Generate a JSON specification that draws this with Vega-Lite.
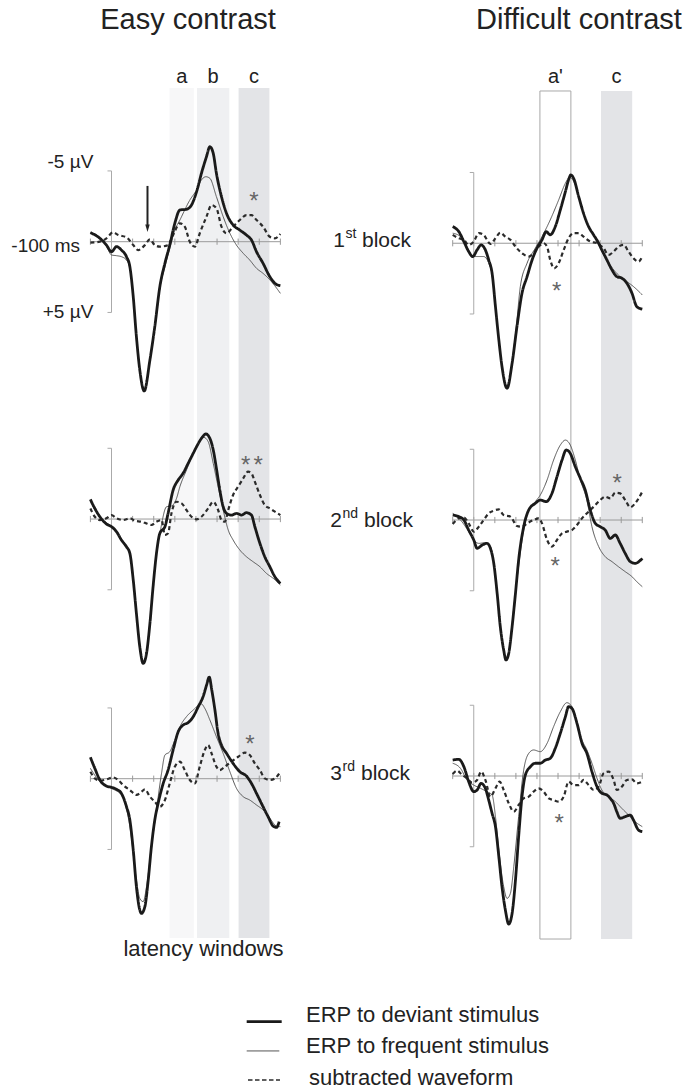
{
"$schema": "https://vega.github.io/schema/vega-lite/v6.json",
"width": 689, "height": 1090,
"autosize": {"type": "fit", "contains": "padding"},
"padding": 0,
"background": "white",
"config": {"view": {"stroke": null}, "font": "Liberation Sans"},
"datasets": {
"ticks": [{"t":-100},{"t":0},{"t":100},{"t":200},{"t":300},{"t":400},{"t":500},{"t":600},{"t":700},{"t":800}],
"bracket": [{"v":-5},{"v":5}],
"windows": [
{"contrast":"Easy","w":"a","start":275,"end":390},
{"contrast":"Easy","w":"b","start":405,"end":558},
{"contrast":"Easy","w":"c","start":602,"end":748},
{"contrast":"Difficult","w":"a'","start":314,"end":461},
{"contrast":"Difficult","w":"c","start":604,"end":752}
],
"stars": [
{"p":"E1","t":675,"v":-2.33},
{"p":"E2","t":636,"v":-3.24},{"p":"E2","t":695,"v":-3.24},
{"p":"E3","t":656,"v":-1.92},
{"p":"D1","t":394,"v":3.97},
{"p":"D2","t":386,"v":3.8},{"p":"D2","t":681,"v":-2.08},
{"p":"D3","t":406,"v":3.89}
],
"easy1": [
{"s":"frequent","t":-100,"v":-0.64},{"s":"frequent","t":-55,"v":-0.24},{"s":"frequent","t":-24,"v":0.31},{"s":"frequent","t":0,"v":0.94},{"s":"frequent","t":24,"v":0.99},{"s":"frequent","t":47,"v":1.06},{"s":"frequent","t":71,"v":1.3},{"s":"frequent","t":87,"v":1.88},{"s":"frequent","t":103,"v":3.89},{"s":"frequent","t":118,"v":6.71},{"s":"frequent","t":134,"v":9.07},{"s":"frequent","t":155,"v":10.48},{"s":"frequent","t":182,"v":8.36},{"s":"frequent","t":205,"v":6.12},{"s":"frequent","t":229,"v":3.3},{"s":"frequent","t":253,"v":1.77},{"s":"frequent","t":276,"v":0.47},{"s":"frequent","t":300,"v":-0.82},{"s":"frequent","t":324,"v":-1.53},{"s":"frequent","t":371,"v":-2.94},{"s":"frequent","t":403,"v":-3.65},{"s":"frequent","t":426,"v":-4.36},{"s":"frequent","t":447,"v":-4.59},{"s":"frequent","t":466,"v":-4.48},{"s":"frequent","t":497,"v":-3.18},{"s":"frequent","t":529,"v":-1.77},{"s":"frequent","t":561,"v":-0.59},{"s":"frequent","t":592,"v":0.24},{"s":"frequent","t":624,"v":0.82},{"s":"frequent","t":655,"v":1.3},{"s":"frequent","t":687,"v":1.88},{"s":"frequent","t":718,"v":2.24},{"s":"frequent","t":758,"v":2.83},{"s":"frequent","t":800,"v":3.65},
{"s":"subtracted","t":-100,"v":0.07},{"s":"subtracted","t":-55,"v":0},{"s":"subtracted","t":-24,"v":-0.24},{"s":"subtracted","t":8,"v":-0.66},{"s":"subtracted","t":32,"v":-0.47},{"s":"subtracted","t":71,"v":-0.31},{"s":"subtracted","t":103,"v":0.24},{"s":"subtracted","t":126,"v":0.59},{"s":"subtracted","t":158,"v":0.24},{"s":"subtracted","t":182,"v":-0.16},{"s":"subtracted","t":205,"v":0.24},{"s":"subtracted","t":229,"v":0.35},{"s":"subtracted","t":268,"v":0.24},{"s":"subtracted","t":292,"v":-0.47},{"s":"subtracted","t":324,"v":-1.3},{"s":"subtracted","t":347,"v":-1.06},{"s":"subtracted","t":371,"v":0},{"s":"subtracted","t":395,"v":0.35},{"s":"subtracted","t":418,"v":-0.59},{"s":"subtracted","t":450,"v":-1.77},{"s":"subtracted","t":474,"v":-2.59},{"s":"subtracted","t":497,"v":-2.36},{"s":"subtracted","t":521,"v":-1.06},{"s":"subtracted","t":545,"v":-0.59},{"s":"subtracted","t":576,"v":-1.06},{"s":"subtracted","t":608,"v":-1.53},{"s":"subtracted","t":639,"v":-1.88},{"s":"subtracted","t":663,"v":-1.88},{"s":"subtracted","t":687,"v":-1.53},{"s":"subtracted","t":718,"v":-1.06},{"s":"subtracted","t":750,"v":-0.35},{"s":"subtracted","t":774,"v":-0.24},{"s":"subtracted","t":800,"v":-0.54},
{"s":"deviant","t":-100,"v":-0.64},{"s":"deviant","t":-55,"v":-0.24},{"s":"deviant","t":-24,"v":0.24},{"s":"deviant","t":0,"v":0.71},{"s":"deviant","t":24,"v":0.35},{"s":"deviant","t":47,"v":0.59},{"s":"deviant","t":71,"v":1.06},{"s":"deviant","t":87,"v":1.77},{"s":"deviant","t":103,"v":3.89},{"s":"deviant","t":118,"v":6.71},{"s":"deviant","t":134,"v":9.07},{"s":"deviant","t":155,"v":10.55},{"s":"deviant","t":182,"v":8.36},{"s":"deviant","t":205,"v":6.01},{"s":"deviant","t":229,"v":3.18},{"s":"deviant","t":253,"v":1.53},{"s":"deviant","t":276,"v":0.24},{"s":"deviant","t":300,"v":-1.3},{"s":"deviant","t":324,"v":-2.24},{"s":"deviant","t":355,"v":-2.29},{"s":"deviant","t":379,"v":-2.59},{"s":"deviant","t":403,"v":-3.53},{"s":"deviant","t":426,"v":-4.83},{"s":"deviant","t":450,"v":-6.01},{"s":"deviant","t":466,"v":-6.71},{"s":"deviant","t":482,"v":-6.24},{"s":"deviant","t":497,"v":-4.83},{"s":"deviant","t":521,"v":-3.18},{"s":"deviant","t":545,"v":-2.0},{"s":"deviant","t":576,"v":-1.18},{"s":"deviant","t":608,"v":-0.82},{"s":"deviant","t":639,"v":-0.47},{"s":"deviant","t":663,"v":-0.12},{"s":"deviant","t":687,"v":0.71},{"s":"deviant","t":718,"v":1.53},{"s":"deviant","t":750,"v":2.47},{"s":"deviant","t":774,"v":2.94},{"s":"deviant","t":800,"v":3.11}
],
"easy2": [
{"s":"frequent","t":-100,"v":-1.22},{"s":"frequent","t":-55,"v":-0.12},{"s":"frequent","t":0,"v":0.54},{"s":"frequent","t":55,"v":1.6},{"s":"frequent","t":87,"v":2.43},{"s":"frequent","t":103,"v":4.19},{"s":"frequent","t":118,"v":6.55},{"s":"frequent","t":134,"v":8.9},{"s":"frequent","t":150,"v":10.08},{"s":"frequent","t":166,"v":9.38},{"s":"frequent","t":182,"v":7.26},{"s":"frequent","t":197,"v":4.66},{"s":"frequent","t":213,"v":2.31},{"s":"frequent","t":229,"v":1.01},{"s":"frequent","t":261,"v":-0.87},{"s":"frequent","t":284,"v":-0.92},{"s":"frequent","t":308,"v":-1.46},{"s":"frequent","t":324,"v":-2.29},{"s":"frequent","t":355,"v":-3.46},{"s":"frequent","t":387,"v":-4.64},{"s":"frequent","t":418,"v":-5.54},{"s":"frequent","t":437,"v":-5.77},{"s":"frequent","t":458,"v":-5.47},{"s":"frequent","t":482,"v":-3.93},{"s":"frequent","t":505,"v":-2.29},{"s":"frequent","t":529,"v":-0.64},{"s":"frequent","t":553,"v":0.78},{"s":"frequent","t":576,"v":1.48},{"s":"frequent","t":608,"v":2.19},{"s":"frequent","t":639,"v":2.66},{"s":"frequent","t":671,"v":3.02},{"s":"frequent","t":703,"v":3.37},{"s":"frequent","t":734,"v":3.84},{"s":"frequent","t":766,"v":4.19},{"s":"frequent","t":800,"v":4.66},
{"s":"subtracted","t":-100,"v":-0.75},{"s":"subtracted","t":-79,"v":-0.16},{"s":"subtracted","t":-55,"v":0.07},{"s":"subtracted","t":-24,"v":-0.05},{"s":"subtracted","t":0,"v":-0.28},{"s":"subtracted","t":24,"v":-0.05},{"s":"subtracted","t":55,"v":0.07},{"s":"subtracted","t":87,"v":-0.05},{"s":"subtracted","t":111,"v":0.12},{"s":"subtracted","t":142,"v":0.19},{"s":"subtracted","t":166,"v":0.31},{"s":"subtracted","t":189,"v":0.42},{"s":"subtracted","t":213,"v":0.19},{"s":"subtracted","t":237,"v":0.07},{"s":"subtracted","t":253,"v":1.13},{"s":"subtracted","t":268,"v":1.01},{"s":"subtracted","t":284,"v":-0.4},{"s":"subtracted","t":308,"v":-1.22},{"s":"subtracted","t":332,"v":-1.11},{"s":"subtracted","t":355,"v":-0.64},{"s":"subtracted","t":379,"v":-0.16},{"s":"subtracted","t":403,"v":0.02},{"s":"subtracted","t":426,"v":-0.16},{"s":"subtracted","t":458,"v":-0.75},{"s":"subtracted","t":482,"v":-1.22},{"s":"subtracted","t":505,"v":-0.64},{"s":"subtracted","t":521,"v":0.07},{"s":"subtracted","t":537,"v":0.19},{"s":"subtracted","t":553,"v":-0.64},{"s":"subtracted","t":576,"v":-1.7},{"s":"subtracted","t":600,"v":-2.29},{"s":"subtracted","t":624,"v":-2.87},{"s":"subtracted","t":647,"v":-3.35},{"s":"subtracted","t":663,"v":-3.23},{"s":"subtracted","t":679,"v":-2.64},{"s":"subtracted","t":703,"v":-1.7},{"s":"subtracted","t":726,"v":-0.99},{"s":"subtracted","t":750,"v":-0.75},{"s":"subtracted","t":774,"v":-0.52},{"s":"subtracted","t":800,"v":-0.28},
{"s":"deviant","t":-100,"v":-1.39},{"s":"deviant","t":-79,"v":-0.75},{"s":"deviant","t":-55,"v":-0.16},{"s":"deviant","t":-24,"v":0.35},{"s":"deviant","t":0,"v":0.54},{"s":"deviant","t":24,"v":0.9},{"s":"deviant","t":47,"v":1.48},{"s":"deviant","t":71,"v":1.96},{"s":"deviant","t":87,"v":2.43},{"s":"deviant","t":103,"v":4.31},{"s":"deviant","t":118,"v":6.67},{"s":"deviant","t":134,"v":9.02},{"s":"deviant","t":150,"v":10.2},{"s":"deviant","t":166,"v":9.49},{"s":"deviant","t":182,"v":7.37},{"s":"deviant","t":197,"v":4.78},{"s":"deviant","t":213,"v":2.43},{"s":"deviant","t":229,"v":1.01},{"s":"deviant","t":253,"v":0.54},{"s":"deviant","t":268,"v":-0.4},{"s":"deviant","t":292,"v":-2.05},{"s":"deviant","t":316,"v":-2.76},{"s":"deviant","t":339,"v":-3.23},{"s":"deviant","t":363,"v":-3.93},{"s":"deviant","t":387,"v":-4.64},{"s":"deviant","t":403,"v":-5.11},{"s":"deviant","t":426,"v":-5.7},{"s":"deviant","t":447,"v":-6.01},{"s":"deviant","t":466,"v":-5.7},{"s":"deviant","t":482,"v":-4.88},{"s":"deviant","t":497,"v":-3.58},{"s":"deviant","t":513,"v":-2.05},{"s":"deviant","t":529,"v":-0.87},{"s":"deviant","t":545,"v":-0.4},{"s":"deviant","t":568,"v":-0.28},{"s":"deviant","t":592,"v":-0.4},{"s":"deviant","t":616,"v":-0.28},{"s":"deviant","t":639,"v":-0.45},{"s":"deviant","t":663,"v":-0.28},{"s":"deviant","t":679,"v":0.54},{"s":"deviant","t":703,"v":1.72},{"s":"deviant","t":726,"v":2.66},{"s":"deviant","t":750,"v":3.37},{"s":"deviant","t":774,"v":4.08},{"s":"deviant","t":800,"v":4.55}
],
"easy3": [
{"s":"frequent","t":-100,"v":-0.73},{"s":"frequent","t":-55,"v":0.21},{"s":"frequent","t":0,"v":0.68},{"s":"frequent","t":47,"v":1.15},{"s":"frequent","t":87,"v":3.39},{"s":"frequent","t":118,"v":7.16},{"s":"frequent","t":134,"v":8.46},{"s":"frequent","t":150,"v":8.69},{"s":"frequent","t":166,"v":7.63},{"s":"frequent","t":189,"v":4.81},{"s":"frequent","t":213,"v":2.21},{"s":"frequent","t":237,"v":-0.38},{"s":"frequent","t":253,"v":-1.67},{"s":"frequent","t":276,"v":-1.91},{"s":"frequent","t":300,"v":-2.73},{"s":"frequent","t":324,"v":-3.67},{"s":"frequent","t":355,"v":-4.38},{"s":"frequent","t":387,"v":-4.85},{"s":"frequent","t":426,"v":-5.28},{"s":"frequent","t":442,"v":-4.97},{"s":"frequent","t":466,"v":-4.15},{"s":"frequent","t":497,"v":-2.97},{"s":"frequent","t":529,"v":-1.79},{"s":"frequent","t":561,"v":-0.49},{"s":"frequent","t":592,"v":0.68},{"s":"frequent","t":624,"v":1.27},{"s":"frequent","t":655,"v":1.51},{"s":"frequent","t":687,"v":1.86},{"s":"frequent","t":718,"v":2.21},{"s":"frequent","t":750,"v":2.8},{"s":"frequent","t":782,"v":3.35},{"s":"frequent","t":800,"v":3.39},
{"s":"subtracted","t":-100,"v":-0.49},{"s":"subtracted","t":-79,"v":-0.02},{"s":"subtracted","t":-55,"v":0.14},{"s":"subtracted","t":-24,"v":0.05},{"s":"subtracted","t":8,"v":-0.09},{"s":"subtracted","t":32,"v":0.09},{"s":"subtracted","t":55,"v":0.45},{"s":"subtracted","t":87,"v":0.8},{"s":"subtracted","t":118,"v":1.15},{"s":"subtracted","t":142,"v":0.92},{"s":"subtracted","t":158,"v":0.75},{"s":"subtracted","t":182,"v":1.27},{"s":"subtracted","t":205,"v":1.63},{"s":"subtracted","t":229,"v":1.98},{"s":"subtracted","t":253,"v":1.51},{"s":"subtracted","t":276,"v":0.33},{"s":"subtracted","t":300,"v":-0.85},{"s":"subtracted","t":324,"v":-1.2},{"s":"subtracted","t":347,"v":-0.61},{"s":"subtracted","t":371,"v":0.09},{"s":"subtracted","t":395,"v":0.33},{"s":"subtracted","t":418,"v":-0.85},{"s":"subtracted","t":442,"v":-2.03},{"s":"subtracted","t":458,"v":-2.38},{"s":"subtracted","t":474,"v":-1.79},{"s":"subtracted","t":497,"v":-0.85},{"s":"subtracted","t":513,"v":-0.61},{"s":"subtracted","t":537,"v":-0.85},{"s":"subtracted","t":568,"v":-1.2},{"s":"subtracted","t":600,"v":-1.55},{"s":"subtracted","t":632,"v":-1.84},{"s":"subtracted","t":655,"v":-1.67},{"s":"subtracted","t":679,"v":-1.08},{"s":"subtracted","t":703,"v":-0.61},{"s":"subtracted","t":726,"v":-0.02},{"s":"subtracted","t":750,"v":0.09},{"s":"subtracted","t":774,"v":-0.02},{"s":"subtracted","t":800,"v":-0.49},
{"s":"deviant","t":-100,"v":-1.51},{"s":"deviant","t":-79,"v":-0.73},{"s":"deviant","t":-55,"v":0.09},{"s":"deviant","t":-24,"v":0.52},{"s":"deviant","t":0,"v":0.61},{"s":"deviant","t":24,"v":0.75},{"s":"deviant","t":47,"v":1.04},{"s":"deviant","t":71,"v":1.98},{"s":"deviant","t":87,"v":2.92},{"s":"deviant","t":103,"v":5.04},{"s":"deviant","t":118,"v":7.63},{"s":"deviant","t":134,"v":9.28},{"s":"deviant","t":142,"v":9.52},{"s":"deviant","t":158,"v":9.05},{"s":"deviant","t":174,"v":7.16},{"s":"deviant","t":189,"v":4.81},{"s":"deviant","t":205,"v":2.92},{"s":"deviant","t":221,"v":1.74},{"s":"deviant","t":245,"v":0.33},{"s":"deviant","t":268,"v":-0.61},{"s":"deviant","t":292,"v":-2.03},{"s":"deviant","t":316,"v":-3.32},{"s":"deviant","t":339,"v":-3.79},{"s":"deviant","t":363,"v":-3.96},{"s":"deviant","t":387,"v":-4.38},{"s":"deviant","t":411,"v":-5.09},{"s":"deviant","t":434,"v":-5.8},{"s":"deviant","t":450,"v":-6.6},{"s":"deviant","t":463,"v":-7.18},{"s":"deviant","t":475,"v":-6.27},{"s":"deviant","t":490,"v":-4.85},{"s":"deviant","t":505,"v":-3.2},{"s":"deviant","t":521,"v":-2.38},{"s":"deviant","t":545,"v":-1.79},{"s":"deviant","t":576,"v":-1.08},{"s":"deviant","t":608,"v":-0.49},{"s":"deviant","t":639,"v":-0.19},{"s":"deviant","t":663,"v":0.33},{"s":"deviant","t":687,"v":1.04},{"s":"deviant","t":718,"v":1.98},{"s":"deviant","t":742,"v":2.69},{"s":"deviant","t":766,"v":3.35},{"s":"deviant","t":782,"v":3.44},{"s":"deviant","t":794,"v":3.04}
],
"diff1": [
{"s":"frequent","t":-100,"v":-0.71},{"s":"frequent","t":-63,"v":-0.47},{"s":"frequent","t":-32,"v":0.24},{"s":"frequent","t":-5,"v":0.94},{"s":"frequent","t":47,"v":0.94},{"s":"frequent","t":71,"v":1.41},{"s":"frequent","t":87,"v":2.24},{"s":"frequent","t":103,"v":4.48},{"s":"frequent","t":119,"v":6.83},{"s":"frequent","t":134,"v":8.72},{"s":"frequent","t":158,"v":10.13},{"s":"frequent","t":182,"v":8.36},{"s":"frequent","t":205,"v":5.42},{"s":"frequent","t":221,"v":3.06},{"s":"frequent","t":253,"v":1.41},{"s":"frequent","t":292,"v":0.35},{"s":"frequent","t":324,"v":-0.47},{"s":"frequent","t":363,"v":-1.65},{"s":"frequent","t":403,"v":-3.06},{"s":"frequent","t":435,"v":-4.24},{"s":"frequent","t":455,"v":-4.66},{"s":"frequent","t":482,"v":-4.12},{"s":"frequent","t":506,"v":-2.83},{"s":"frequent","t":537,"v":-1.41},{"s":"frequent","t":569,"v":-0.59},{"s":"frequent","t":600,"v":0.35},{"s":"frequent","t":632,"v":1.18},{"s":"frequent","t":664,"v":1.88},{"s":"frequent","t":695,"v":2.36},{"s":"frequent","t":727,"v":2.71},{"s":"frequent","t":758,"v":3.06},{"s":"frequent","t":800,"v":3.65},
{"s":"subtracted","t":-100,"v":-0.59},{"s":"subtracted","t":-71,"v":-0.35},{"s":"subtracted","t":-47,"v":-0.24},{"s":"subtracted","t":-24,"v":0.12},{"s":"subtracted","t":0,"v":-0.12},{"s":"subtracted","t":24,"v":-0.71},{"s":"subtracted","t":47,"v":-0.59},{"s":"subtracted","t":79,"v":0.05},{"s":"subtracted","t":103,"v":-0.35},{"s":"subtracted","t":126,"v":-0.75},{"s":"subtracted","t":150,"v":-0.47},{"s":"subtracted","t":174,"v":-0.24},{"s":"subtracted","t":198,"v":0.24},{"s":"subtracted","t":229,"v":0.71},{"s":"subtracted","t":261,"v":0.94},{"s":"subtracted","t":284,"v":0.71},{"s":"subtracted","t":308,"v":0.24},{"s":"subtracted","t":332,"v":0},{"s":"subtracted","t":348,"v":0.24},{"s":"subtracted","t":363,"v":1.18},{"s":"subtracted","t":382,"v":1.77},{"s":"subtracted","t":403,"v":1.41},{"s":"subtracted","t":427,"v":0.47},{"s":"subtracted","t":450,"v":-0.35},{"s":"subtracted","t":474,"v":-0.71},{"s":"subtracted","t":498,"v":-0.71},{"s":"subtracted","t":521,"v":-0.47},{"s":"subtracted","t":553,"v":-0.12},{"s":"subtracted","t":585,"v":0},{"s":"subtracted","t":616,"v":0.35},{"s":"subtracted","t":640,"v":0.82},{"s":"subtracted","t":664,"v":0.59},{"s":"subtracted","t":687,"v":0.24},{"s":"subtracted","t":711,"v":0.12},{"s":"subtracted","t":735,"v":0.59},{"s":"subtracted","t":758,"v":1.06},{"s":"subtracted","t":782,"v":1.3},{"s":"subtracted","t":800,"v":0.94},
{"s":"deviant","t":-100,"v":-1.18},{"s":"deviant","t":-71,"v":-0.82},{"s":"deviant","t":-47,"v":-0.12},{"s":"deviant","t":-24,"v":0.59},{"s":"deviant","t":-5,"v":0.94},{"s":"deviant","t":16,"v":0.47},{"s":"deviant","t":35,"v":0.12},{"s":"deviant","t":55,"v":0.47},{"s":"deviant","t":71,"v":1.18},{"s":"deviant","t":87,"v":2.12},{"s":"deviant","t":103,"v":4.48},{"s":"deviant","t":119,"v":6.83},{"s":"deviant","t":134,"v":8.72},{"s":"deviant","t":158,"v":10.25},{"s":"deviant","t":182,"v":8.48},{"s":"deviant","t":205,"v":5.89},{"s":"deviant","t":229,"v":3.53},{"s":"deviant","t":253,"v":2.36},{"s":"deviant","t":277,"v":1.18},{"s":"deviant","t":300,"v":0.35},{"s":"deviant","t":324,"v":-0.24},{"s":"deviant","t":344,"v":-0.82},{"s":"deviant","t":363,"v":-0.59},{"s":"deviant","t":387,"v":-1.18},{"s":"deviant","t":411,"v":-2.36},{"s":"deviant","t":435,"v":-3.65},{"s":"deviant","t":450,"v":-4.48},{"s":"deviant","t":461,"v":-4.83},{"s":"deviant","t":474,"v":-4.59},{"s":"deviant","t":498,"v":-3.3},{"s":"deviant","t":521,"v":-2.12},{"s":"deviant","t":545,"v":-1.18},{"s":"deviant","t":569,"v":-0.59},{"s":"deviant","t":593,"v":0},{"s":"deviant","t":608,"v":0.47},{"s":"deviant","t":632,"v":1.18},{"s":"deviant","t":656,"v":1.88},{"s":"deviant","t":679,"v":2.36},{"s":"deviant","t":703,"v":2.47},{"s":"deviant","t":727,"v":2.83},{"s":"deviant","t":751,"v":3.53},{"s":"deviant","t":774,"v":4.48},{"s":"deviant","t":800,"v":4.66}
],
"diff2": [
{"s":"frequent","t":-100,"v":-0.47},{"s":"frequent","t":-63,"v":0},{"s":"frequent","t":-24,"v":0.82},{"s":"frequent","t":0,"v":1.41},{"s":"frequent","t":24,"v":1.65},{"s":"frequent","t":55,"v":1.6},{"s":"frequent","t":79,"v":1.88},{"s":"frequent","t":95,"v":3.06},{"s":"frequent","t":111,"v":5.18},{"s":"frequent","t":126,"v":7.54},{"s":"frequent","t":142,"v":9.19},{"s":"frequent","t":153,"v":9.85},{"s":"frequent","t":166,"v":9.42},{"s":"frequent","t":182,"v":7.3},{"s":"frequent","t":205,"v":4.24},{"s":"frequent","t":237,"v":0.71},{"s":"frequent","t":261,"v":-0.71},{"s":"frequent","t":292,"v":-1.3},{"s":"frequent","t":316,"v":-1.77},{"s":"frequent","t":348,"v":-2.83},{"s":"frequent","t":379,"v":-4.24},{"s":"frequent","t":411,"v":-5.3},{"s":"frequent","t":435,"v":-5.65},{"s":"frequent","t":458,"v":-5.3},{"s":"frequent","t":482,"v":-4.24},{"s":"frequent","t":506,"v":-2.83},{"s":"frequent","t":537,"v":-1.41},{"s":"frequent","t":561,"v":0.47},{"s":"frequent","t":593,"v":1.88},{"s":"frequent","t":624,"v":2.59},{"s":"frequent","t":656,"v":2.94},{"s":"frequent","t":687,"v":3.3},{"s":"frequent","t":719,"v":3.65},{"s":"frequent","t":751,"v":4.0},{"s":"frequent","t":774,"v":4.36},{"s":"frequent","t":800,"v":4.71},
{"s":"subtracted","t":-100,"v":0.28},{"s":"subtracted","t":-71,"v":-0.12},{"s":"subtracted","t":-47,"v":-0.19},{"s":"subtracted","t":-24,"v":0.24},{"s":"subtracted","t":0,"v":0.82},{"s":"subtracted","t":24,"v":0.47},{"s":"subtracted","t":47,"v":0},{"s":"subtracted","t":71,"v":-0.47},{"s":"subtracted","t":95,"v":-0.66},{"s":"subtracted","t":119,"v":-0.75},{"s":"subtracted","t":142,"v":-0.35},{"s":"subtracted","t":174,"v":-0.24},{"s":"subtracted","t":205,"v":0.42},{"s":"subtracted","t":229,"v":0.47},{"s":"subtracted","t":253,"v":0.24},{"s":"subtracted","t":284,"v":0},{"s":"subtracted","t":308,"v":-0.12},{"s":"subtracted","t":324,"v":0.24},{"s":"subtracted","t":348,"v":1.41},{"s":"subtracted","t":371,"v":1.88},{"s":"subtracted","t":395,"v":1.41},{"s":"subtracted","t":419,"v":0.94},{"s":"subtracted","t":442,"v":0.82},{"s":"subtracted","t":466,"v":0.71},{"s":"subtracted","t":490,"v":0.35},{"s":"subtracted","t":514,"v":-0.12},{"s":"subtracted","t":545,"v":-0.59},{"s":"subtracted","t":569,"v":-0.94},{"s":"subtracted","t":600,"v":-1.41},{"s":"subtracted","t":624,"v":-1.65},{"s":"subtracted","t":648,"v":-1.53},{"s":"subtracted","t":672,"v":-1.93},{"s":"subtracted","t":695,"v":-1.88},{"s":"subtracted","t":719,"v":-1.41},{"s":"subtracted","t":743,"v":-0.9},{"s":"subtracted","t":766,"v":-1.18},{"s":"subtracted","t":800,"v":-2.0},
{"s":"deviant","t":-100,"v":-0.35},{"s":"deviant","t":-71,"v":-0.24},{"s":"deviant","t":-47,"v":0},{"s":"deviant","t":-24,"v":0.71},{"s":"deviant","t":0,"v":1.41},{"s":"deviant","t":16,"v":2.0},{"s":"deviant","t":40,"v":1.77},{"s":"deviant","t":63,"v":1.65},{"s":"deviant","t":79,"v":2.0},{"s":"deviant","t":95,"v":3.06},{"s":"deviant","t":111,"v":5.18},{"s":"deviant","t":126,"v":7.54},{"s":"deviant","t":142,"v":9.19},{"s":"deviant","t":153,"v":9.89},{"s":"deviant","t":166,"v":9.42},{"s":"deviant","t":182,"v":7.54},{"s":"deviant","t":198,"v":5.18},{"s":"deviant","t":213,"v":2.83},{"s":"deviant","t":237,"v":0.47},{"s":"deviant","t":261,"v":-0.71},{"s":"deviant","t":292,"v":-1.18},{"s":"deviant","t":316,"v":-1.41},{"s":"deviant","t":344,"v":-1.3},{"s":"deviant","t":371,"v":-1.88},{"s":"deviant","t":395,"v":-3.06},{"s":"deviant","t":419,"v":-4.24},{"s":"deviant","t":439,"v":-4.95},{"s":"deviant","t":458,"v":-4.71},{"s":"deviant","t":482,"v":-3.77},{"s":"deviant","t":506,"v":-2.94},{"s":"deviant","t":529,"v":-2.12},{"s":"deviant","t":553,"v":-0.71},{"s":"deviant","t":577,"v":0.24},{"s":"deviant","t":600,"v":0.47},{"s":"deviant","t":624,"v":0.71},{"s":"deviant","t":648,"v":1.3},{"s":"deviant","t":672,"v":1.06},{"s":"deviant","t":695,"v":1.65},{"s":"deviant","t":719,"v":2.36},{"s":"deviant","t":743,"v":2.94},{"s":"deviant","t":766,"v":3.06},{"s":"deviant","t":800,"v":2.71}
],
"diff3": [
{"s":"frequent","t":-100,"v":-0.9},{"s":"frequent","t":-63,"v":-0.54},{"s":"frequent","t":-32,"v":0.28},{"s":"frequent","t":0,"v":0.64},{"s":"frequent","t":32,"v":0.87},{"s":"frequent","t":63,"v":1.11},{"s":"frequent","t":87,"v":1.34},{"s":"frequent","t":103,"v":2.87},{"s":"frequent","t":119,"v":5.23},{"s":"frequent","t":142,"v":7.82},{"s":"frequent","t":158,"v":8.65},{"s":"frequent","t":174,"v":8.29},{"s":"frequent","t":190,"v":6.41},{"s":"frequent","t":213,"v":2.87},{"s":"frequent","t":237,"v":-0.42},{"s":"frequent","t":261,"v":-1.6},{"s":"frequent","t":284,"v":-1.84},{"s":"frequent","t":316,"v":-1.72},{"s":"frequent","t":348,"v":-2.31},{"s":"frequent","t":379,"v":-3.49},{"s":"frequent","t":411,"v":-4.55},{"s":"frequent","t":442,"v":-5.18},{"s":"frequent","t":466,"v":-4.9},{"s":"frequent","t":490,"v":-3.72},{"s":"frequent","t":514,"v":-2.54},{"s":"frequent","t":537,"v":-1.84},{"s":"frequent","t":561,"v":-0.9},{"s":"frequent","t":585,"v":0.16},{"s":"frequent","t":608,"v":0.99},{"s":"frequent","t":640,"v":1.46},{"s":"frequent","t":672,"v":1.81},{"s":"frequent","t":703,"v":2.29},{"s":"frequent","t":735,"v":2.76},{"s":"frequent","t":766,"v":3.23},{"s":"frequent","t":800,"v":3.58},
{"s":"subtracted","t":-100,"v":-0.14},{"s":"subtracted","t":-79,"v":-0.38},{"s":"subtracted","t":-55,"v":-0.07},{"s":"subtracted","t":-32,"v":0.16},{"s":"subtracted","t":-8,"v":0.47},{"s":"subtracted","t":16,"v":0.28},{"s":"subtracted","t":35,"v":-0.31},{"s":"subtracted","t":55,"v":0.28},{"s":"subtracted","t":79,"v":1.46},{"s":"subtracted","t":103,"v":0.87},{"s":"subtracted","t":123,"v":0.4},{"s":"subtracted","t":142,"v":0.99},{"s":"subtracted","t":166,"v":1.93},{"s":"subtracted","t":190,"v":2.52},{"s":"subtracted","t":213,"v":2.05},{"s":"subtracted","t":237,"v":1.58},{"s":"subtracted","t":261,"v":1.46},{"s":"subtracted","t":284,"v":1.11},{"s":"subtracted","t":308,"v":0.87},{"s":"subtracted","t":332,"v":1.11},{"s":"subtracted","t":356,"v":1.58},{"s":"subtracted","t":379,"v":1.7},{"s":"subtracted","t":403,"v":1.81},{"s":"subtracted","t":427,"v":1.46},{"s":"subtracted","t":450,"v":0.4},{"s":"subtracted","t":474,"v":0.64},{"s":"subtracted","t":498,"v":0.64},{"s":"subtracted","t":521,"v":0.28},{"s":"subtracted","t":545,"v":0.64},{"s":"subtracted","t":569,"v":0.99},{"s":"subtracted","t":593,"v":0.75},{"s":"subtracted","t":616,"v":-0.19},{"s":"subtracted","t":640,"v":-0.31},{"s":"subtracted","t":664,"v":0.28},{"s":"subtracted","t":679,"v":0.99},{"s":"subtracted","t":703,"v":0.75},{"s":"subtracted","t":727,"v":0.28},{"s":"subtracted","t":751,"v":0.24},{"s":"subtracted","t":774,"v":0.52},{"s":"subtracted","t":800,"v":0.4},
{"s":"deviant","t":-100,"v":-1.13},{"s":"deviant","t":-71,"v":-1.18},{"s":"deviant","t":-47,"v":-0.66},{"s":"deviant","t":-24,"v":0.4},{"s":"deviant","t":0,"v":1.11},{"s":"deviant","t":16,"v":0.99},{"s":"deviant","t":35,"v":0.52},{"s":"deviant","t":55,"v":0.87},{"s":"deviant","t":71,"v":1.7},{"s":"deviant","t":87,"v":2.64},{"s":"deviant","t":103,"v":3.58},{"s":"deviant","t":119,"v":5.7},{"s":"deviant","t":134,"v":7.82},{"s":"deviant","t":150,"v":9.47},{"s":"deviant","t":166,"v":10.46},{"s":"deviant","t":182,"v":9.71},{"s":"deviant","t":198,"v":7.35},{"s":"deviant","t":213,"v":4.29},{"s":"deviant","t":229,"v":1.46},{"s":"deviant","t":245,"v":-0.07},{"s":"deviant","t":269,"v":-0.66},{"s":"deviant","t":292,"v":-0.9},{"s":"deviant","t":316,"v":-0.9},{"s":"deviant","t":340,"v":-1.13},{"s":"deviant","t":363,"v":-1.25},{"s":"deviant","t":387,"v":-1.96},{"s":"deviant","t":411,"v":-3.02},{"s":"deviant","t":435,"v":-4.19},{"s":"deviant","t":450,"v":-4.9},{"s":"deviant","t":466,"v":-4.78},{"s":"deviant","t":490,"v":-3.72},{"s":"deviant","t":514,"v":-2.31},{"s":"deviant","t":537,"v":-1.6},{"s":"deviant","t":561,"v":-0.31},{"s":"deviant","t":585,"v":0.75},{"s":"deviant","t":608,"v":1.22},{"s":"deviant","t":632,"v":1.34},{"s":"deviant","t":648,"v":1.58},{"s":"deviant","t":664,"v":1.93},{"s":"deviant","t":679,"v":2.52},{"s":"deviant","t":695,"v":2.99},{"s":"deviant","t":719,"v":2.87},{"s":"deviant","t":743,"v":2.76},{"s":"deviant","t":758,"v":3.11},{"s":"deviant","t":782,"v":3.82},{"s":"deviant","t":800,"v":3.93}
]
},
"layer": [
{"layer": [
 {"data":{"name":"windows"},"transform":[{"filter":"datum.contrast == 'Easy'"}],"mark":{"type":"rect"},
  "encoding":{"x":{"field":"start","type":"quantitative","scale":{"domain":[-528.2,2735.7],"nice":false,"zero":false},"axis":null},"x2":{"field":"end"},
   "y":{"datum":-10.86,"type":"quantitative","scale":{"domain":[-17.08,59.95],"nice":false,"zero":false,"reverse":true},"axis":null},"y2":{"datum":49.21},
   "fill":{"field":"w","type":"nominal","scale":{"domain":["a","b","c"],"range":["#f7f7f8","#eff0f2","#e3e4e7"]},"legend":null}}},
 {"data":{"name":"windows"},"transform":[{"filter":"datum.contrast == 'Easy'"},{"fold":["start","end"],"as":["edge","tv"]}],
  "mark":{"type":"text","fontSize":20,"color":"#222","align":"center","baseline":"alphabetic"},
  "encoding":{"x":{"aggregate":"mean","field":"tv","type":"quantitative","scale":{"domain":[-528.2,2735.7],"nice":false,"zero":false},"axis":null},
   "y":{"datum":-11.2,"type":"quantitative","scale":{"domain":[-17.08,59.95],"nice":false,"zero":false,"reverse":true},"axis":null},"text":{"field":"w","type":"nominal"}}},
 {"data":{"values":[{}]},"mark":{"type":"text","fontSize":29,"color":"#222","align":"center","baseline":"alphabetic"},
  "encoding":{"x":{"datum":362.4,"type":"quantitative","scale":{"domain":[-528.2,2735.7],"nice":false,"zero":false},"axis":null},
   "y":{"datum":-15.03,"type":"quantitative","scale":{"domain":[-17.08,59.95],"nice":false,"zero":false,"reverse":true},"axis":null},"text":{"value":"Easy contrast"}}},
 {"data":{"values":[{}]},"mark":{"type":"text","fontSize":19,"color":"#222","align":"right","baseline":"alphabetic"},
  "encoding":{"x":{"datum":-86.2,"type":"quantitative","scale":{"domain":[-528.2,2735.7],"nice":false,"zero":false},"axis":null},
   "y":{"datum":-5.19,"type":"quantitative","scale":{"domain":[-17.08,59.95],"nice":false,"zero":false,"reverse":true},"axis":null},"text":{"value":"-5 µV"}}},
 {"data":{"values":[{}]},"mark":{"type":"text","fontSize":19,"color":"#222","align":"right","baseline":"alphabetic"},
  "encoding":{"x":{"datum":-86.2,"type":"quantitative","scale":{"domain":[-528.2,2735.7],"nice":false,"zero":false},"axis":null},
   "y":{"datum":5.41,"type":"quantitative","scale":{"domain":[-17.08,59.95],"nice":false,"zero":false,"reverse":true},"axis":null},"text":{"value":"+5 µV"}}},
 {"data":{"values":[{}]},"mark":{"type":"text","fontSize":19,"color":"#222","align":"right","baseline":"alphabetic"},
  "encoding":{"x":{"datum":-149.2,"type":"quantitative","scale":{"domain":[-528.2,2735.7],"nice":false,"zero":false},"axis":null},
   "y":{"datum":0.73,"type":"quantitative","scale":{"domain":[-17.08,59.95],"nice":false,"zero":false,"reverse":true},"axis":null},"text":{"value":"-100 ms"}}},
 {"data":{"values":[{}]},"mark":{"type":"rule","color":"#9a9a9a","strokeWidth":1},
  "encoding":{"x":{"datum":-100,"type":"quantitative","scale":{"domain":[-528.2,2735.7],"nice":false,"zero":false},"axis":null},"x2":{"datum":800},
   "y":{"datum":0,"type":"quantitative","scale":{"domain":[-17.08,59.95],"nice":false,"zero":false,"reverse":true},"axis":null}}},
 {"data":{"name":"ticks"},"mark":{"type":"rule","color":"#9a9a9a","strokeWidth":1},
  "encoding":{"x":{"field":"t","type":"quantitative","scale":{"domain":[-528.2,2735.7],"nice":false,"zero":false},"axis":null},
   "y":{"datum":-0.22,"type":"quantitative","scale":{"domain":[-17.08,59.95],"nice":false,"zero":false,"reverse":true},"axis":null},"y2":{"datum":0.22}}},
 {"data":{"values":[{}]},"mark":{"type":"rule","color":"#aaaaaa","strokeWidth":1},
  "encoding":{"x":{"datum":0,"type":"quantitative","scale":{"domain":[-528.2,2735.7],"nice":false,"zero":false},"axis":null},
   "y":{"datum":-5,"type":"quantitative","scale":{"domain":[-17.08,59.95],"nice":false,"zero":false,"reverse":true},"axis":null},"y2":{"datum":5}}},
 {"data":{"name":"bracket"},"mark":{"type":"rule","color":"#aaaaaa","strokeWidth":1},
  "encoding":{"x":{"datum":-19,"type":"quantitative","scale":{"domain":[-528.2,2735.7],"nice":false,"zero":false},"axis":null},"x2":{"datum":0},
   "y":{"field":"v","type":"quantitative","scale":{"domain":[-17.08,59.95],"nice":false,"zero":false,"reverse":true},"axis":null}}},
 {"data":{"values":[{}]},"mark":{"type":"rule","color":"#222","strokeWidth":2},
  "encoding":{"x":{"datum":170.5,"type":"quantitative","scale":{"domain":[-528.2,2735.7],"nice":false,"zero":false},"axis":null},
   "y":{"datum":-3.94,"type":"quantitative","scale":{"domain":[-17.08,59.95],"nice":false,"zero":false,"reverse":true},"axis":null},"y2":{"datum":-1.1}}},
 {"data":{"values":[{}]},"mark":{"type":"point","shape":"M-0.6,-1L0.6,-1L0,1Z","filled":true,"color":"#222","opacity":1,"size":55},
  "encoding":{"x":{"datum":170.5,"type":"quantitative","scale":{"domain":[-528.2,2735.7],"nice":false,"zero":false},"axis":null},
   "y":{"datum":-0.95,"type":"quantitative","scale":{"domain":[-17.08,59.95],"nice":false,"zero":false,"reverse":true},"axis":null}}},
 {"data":{"name":"easy1"},"mark":{"type":"line","interpolate":"monotone","strokeJoin":"round","strokeCap":"butt"},
  "encoding":{"x":{"field":"t","type":"quantitative","scale":{"domain":[-528.2,2735.7],"nice":false,"zero":false},"axis":null},
   "y":{"field":"v","type":"quantitative","scale":{"domain":[-17.08,59.95],"nice":false,"zero":false,"reverse":true},"axis":null},
   "color":{"field":"s","type":"nominal","scale":{"domain":["frequent","subtracted","deviant"],"range":["#555555","#2b2b2b","#1a1a1a"]},"legend":null},
   "strokeWidth":{"field":"s","type":"nominal","scale":{"type":"ordinal","domain":["frequent","subtracted","deviant"],"range":[1,2.2,2.8]},"legend":null},
   "strokeDash":{"field":"s","type":"nominal","scale":{"domain":["frequent","subtracted","deviant"],"range":[[1,0],[4,3],[1,0]]},"legend":null}}},
 {"data":{"name":"stars"},"transform":[{"filter":"datum.p == 'E1'"}],"mark":{"type":"text","fontSize":24,"color":"#666","align":"center","baseline":"alphabetic"},
  "encoding":{"x":{"field":"t","type":"quantitative","scale":{"domain":[-528.2,2735.7],"nice":false,"zero":false},"axis":null},
   "y":{"field":"v","type":"quantitative","scale":{"domain":[-17.08,59.95],"nice":false,"zero":false,"reverse":true},"axis":null},"text":{"value":"*"}}}
]},
{"layer": [
 {"data":{"values":[{}]},"mark":{"type":"rule","color":"#9a9a9a","strokeWidth":1},
  "encoding":{"x":{"datum":-100,"type":"quantitative","scale":{"domain":[-528.2,2735.7],"nice":false,"zero":false},"axis":null},"x2":{"datum":800},
   "y":{"datum":0,"type":"quantitative","scale":{"domain":[-36.68,40.35],"nice":false,"zero":false,"reverse":true},"axis":null}}},
 {"data":{"name":"ticks"},"mark":{"type":"rule","color":"#9a9a9a","strokeWidth":1},
  "encoding":{"x":{"field":"t","type":"quantitative","scale":{"domain":[-528.2,2735.7],"nice":false,"zero":false},"axis":null},
   "y":{"datum":-0.22,"type":"quantitative","scale":{"domain":[-36.68,40.35],"nice":false,"zero":false,"reverse":true},"axis":null},"y2":{"datum":0.22}}},
 {"data":{"values":[{}]},"mark":{"type":"rule","color":"#aaaaaa","strokeWidth":1},
  "encoding":{"x":{"datum":0,"type":"quantitative","scale":{"domain":[-528.2,2735.7],"nice":false,"zero":false},"axis":null},
   "y":{"datum":-5,"type":"quantitative","scale":{"domain":[-36.68,40.35],"nice":false,"zero":false,"reverse":true},"axis":null},"y2":{"datum":5}}},
 {"data":{"name":"bracket"},"mark":{"type":"rule","color":"#aaaaaa","strokeWidth":1},
  "encoding":{"x":{"datum":-19,"type":"quantitative","scale":{"domain":[-528.2,2735.7],"nice":false,"zero":false},"axis":null},"x2":{"datum":0},
   "y":{"field":"v","type":"quantitative","scale":{"domain":[-36.68,40.35],"nice":false,"zero":false,"reverse":true},"axis":null}}},
 {"data":{"name":"easy2"},"mark":{"type":"line","interpolate":"monotone","strokeJoin":"round","strokeCap":"butt"},
  "encoding":{"x":{"field":"t","type":"quantitative","scale":{"domain":[-528.2,2735.7],"nice":false,"zero":false},"axis":null},
   "y":{"field":"v","type":"quantitative","scale":{"domain":[-36.68,40.35],"nice":false,"zero":false,"reverse":true},"axis":null},
   "color":{"field":"s","type":"nominal","scale":{"domain":["frequent","subtracted","deviant"],"range":["#555555","#2b2b2b","#1a1a1a"]},"legend":null},
   "strokeWidth":{"field":"s","type":"nominal","scale":{"type":"ordinal","domain":["frequent","subtracted","deviant"],"range":[1,2.2,2.8]},"legend":null},
   "strokeDash":{"field":"s","type":"nominal","scale":{"domain":["frequent","subtracted","deviant"],"range":[[1,0],[4,3],[1,0]]},"legend":null}}},
 {"data":{"name":"stars"},"transform":[{"filter":"datum.p == 'E2'"}],"mark":{"type":"text","fontSize":24,"color":"#666","align":"center","baseline":"alphabetic"},
  "encoding":{"x":{"field":"t","type":"quantitative","scale":{"domain":[-528.2,2735.7],"nice":false,"zero":false},"axis":null},
   "y":{"field":"v","type":"quantitative","scale":{"domain":[-36.68,40.35],"nice":false,"zero":false,"reverse":true},"axis":null},"text":{"value":"*"}}}
]},
{"layer": [
 {"data":{"values":[{}]},"mark":{"type":"rule","color":"#9a9a9a","strokeWidth":1},
  "encoding":{"x":{"datum":-100,"type":"quantitative","scale":{"domain":[-528.2,2735.7],"nice":false,"zero":false},"axis":null},"x2":{"datum":800},
   "y":{"datum":0,"type":"quantitative","scale":{"domain":[-55.03,22.0],"nice":false,"zero":false,"reverse":true},"axis":null}}},
 {"data":{"name":"ticks"},"mark":{"type":"rule","color":"#9a9a9a","strokeWidth":1},
  "encoding":{"x":{"field":"t","type":"quantitative","scale":{"domain":[-528.2,2735.7],"nice":false,"zero":false},"axis":null},
   "y":{"datum":-0.22,"type":"quantitative","scale":{"domain":[-55.03,22.0],"nice":false,"zero":false,"reverse":true},"axis":null},"y2":{"datum":0.22}}},
 {"data":{"values":[{}]},"mark":{"type":"rule","color":"#aaaaaa","strokeWidth":1},
  "encoding":{"x":{"datum":0,"type":"quantitative","scale":{"domain":[-528.2,2735.7],"nice":false,"zero":false},"axis":null},
   "y":{"datum":-5,"type":"quantitative","scale":{"domain":[-55.03,22.0],"nice":false,"zero":false,"reverse":true},"axis":null},"y2":{"datum":5}}},
 {"data":{"name":"bracket"},"mark":{"type":"rule","color":"#aaaaaa","strokeWidth":1},
  "encoding":{"x":{"datum":-19,"type":"quantitative","scale":{"domain":[-528.2,2735.7],"nice":false,"zero":false},"axis":null},"x2":{"datum":0},
   "y":{"field":"v","type":"quantitative","scale":{"domain":[-55.03,22.0],"nice":false,"zero":false,"reverse":true},"axis":null}}},
 {"data":{"name":"easy3"},"mark":{"type":"line","interpolate":"monotone","strokeJoin":"round","strokeCap":"butt"},
  "encoding":{"x":{"field":"t","type":"quantitative","scale":{"domain":[-528.2,2735.7],"nice":false,"zero":false},"axis":null},
   "y":{"field":"v","type":"quantitative","scale":{"domain":[-55.03,22.0],"nice":false,"zero":false,"reverse":true},"axis":null},
   "color":{"field":"s","type":"nominal","scale":{"domain":["frequent","subtracted","deviant"],"range":["#555555","#2b2b2b","#1a1a1a"]},"legend":null},
   "strokeWidth":{"field":"s","type":"nominal","scale":{"type":"ordinal","domain":["frequent","subtracted","deviant"],"range":[1,2.2,2.8]},"legend":null},
   "strokeDash":{"field":"s","type":"nominal","scale":{"domain":["frequent","subtracted","deviant"],"range":[[1,0],[4,3],[1,0]]},"legend":null}}},
 {"data":{"name":"stars"},"transform":[{"filter":"datum.p == 'E3'"}],"mark":{"type":"text","fontSize":24,"color":"#666","align":"center","baseline":"alphabetic"},
  "encoding":{"x":{"field":"t","type":"quantitative","scale":{"domain":[-528.2,2735.7],"nice":false,"zero":false},"axis":null},
   "y":{"field":"v","type":"quantitative","scale":{"domain":[-55.03,22.0],"nice":false,"zero":false,"reverse":true},"axis":null},"text":{"value":"*"}}},
 {"data":{"values":[{}]},"mark":{"type":"text","fontSize":22,"color":"#222","align":"center","baseline":"alphabetic"},
  "encoding":{"x":{"datum":435.8,"type":"quantitative","scale":{"domain":[-528.2,2735.7],"nice":false,"zero":false},"axis":null},
   "y":{"datum":12.53,"type":"quantitative","scale":{"domain":[-55.03,22.0],"nice":false,"zero":false,"reverse":true},"axis":null},"text":{"value":"latency windows"}}},
 {"data":{"values":[{}]},"mark":{"type":"rule","color":"#1a1a1a","strokeWidth":2.8},
  "encoding":{"x":{"datum":640.4,"type":"quantitative","scale":{"domain":[-528.2,2735.7],"nice":false,"zero":false},"axis":null},"x2":{"datum":806.2},
   "y":{"datum":17.17,"type":"quantitative","scale":{"domain":[-55.03,22.0],"nice":false,"zero":false,"reverse":true},"axis":null}}},
 {"data":{"values":[{}]},"mark":{"type":"rule","color":"#555555","strokeWidth":1},
  "encoding":{"x":{"datum":640.4,"type":"quantitative","scale":{"domain":[-528.2,2735.7],"nice":false,"zero":false},"axis":null},"x2":{"datum":794.9},
   "y":{"datum":19.24,"type":"quantitative","scale":{"domain":[-55.03,22.0],"nice":false,"zero":false,"reverse":true},"axis":null}}},
 {"data":{"values":[{}]},"mark":{"type":"rule","color":"#2b2b2b","strokeWidth":1.4,"strokeDash":[4.5,2.5]},
  "encoding":{"x":{"datum":646.6,"type":"quantitative","scale":{"domain":[-528.2,2735.7],"nice":false,"zero":false},"axis":null},"x2":{"datum":798.2},
   "y":{"datum":21.29,"type":"quantitative","scale":{"domain":[-55.03,22.0],"nice":false,"zero":false,"reverse":true},"axis":null}}},
 {"data":{"values":[{}]},"mark":{"type":"text","fontSize":22,"color":"#222","align":"left","baseline":"alphabetic"},
  "encoding":{"x":{"datum":921.3,"type":"quantitative","scale":{"domain":[-528.2,2735.7],"nice":false,"zero":false},"axis":null},
   "y":{"datum":17.19,"type":"quantitative","scale":{"domain":[-55.03,22.0],"nice":false,"zero":false,"reverse":true},"axis":null},"text":{"value":"ERP to deviant stimulus"}}},
 {"data":{"values":[{}]},"mark":{"type":"text","fontSize":22,"color":"#222","align":"left","baseline":"alphabetic"},
  "encoding":{"x":{"datum":921.3,"type":"quantitative","scale":{"domain":[-528.2,2735.7],"nice":false,"zero":false},"axis":null},
   "y":{"datum":19.41,"type":"quantitative","scale":{"domain":[-55.03,22.0],"nice":false,"zero":false,"reverse":true},"axis":null},"text":{"value":"ERP to frequent stimulus"}}},
 {"data":{"values":[{}]},"mark":{"type":"text","fontSize":22,"color":"#222","align":"left","baseline":"alphabetic"},
  "encoding":{"x":{"datum":935.6,"type":"quantitative","scale":{"domain":[-528.2,2735.7],"nice":false,"zero":false},"axis":null},
   "y":{"datum":21.65,"type":"quantitative","scale":{"domain":[-55.03,22.0],"nice":false,"zero":false,"reverse":true},"axis":null},"text":{"value":"subtracted waveform"}}}
]},
{"layer": [
 {"data":{"name":"windows"},"transform":[{"filter":"datum.contrast == 'Difficult' && datum.w == 'c'"}],"mark":{"type":"rect"},
  "encoding":{"x":{"field":"start","type":"quantitative","scale":{"domain":[-2248.9,1021.7],"nice":false,"zero":false},"axis":null},"x2":{"field":"end"},
   "y":{"datum":-10.76,"type":"quantitative","scale":{"domain":[-17.19,59.84],"nice":false,"zero":false,"reverse":true},"axis":null},"y2":{"datum":49.17},
   "fill":{"field":"w","type":"nominal","scale":{"domain":["a","b","c"],"range":["#f7f7f8","#eff0f2","#e3e4e7"]},"legend":null}}},
 {"data":{"name":"windows"},"transform":[{"filter":"datum.contrast == 'Difficult' && datum.w != 'c'"}],"mark":{"type":"rect","fill":"transparent","stroke":"#a8a8a8","strokeWidth":1},
  "encoding":{"x":{"field":"start","type":"quantitative","scale":{"domain":[-2248.9,1021.7],"nice":false,"zero":false},"axis":null},"x2":{"field":"end"},
   "y":{"datum":-10.76,"type":"quantitative","scale":{"domain":[-17.19,59.84],"nice":false,"zero":false,"reverse":true},"axis":null},"y2":{"datum":49.17}}},
 {"data":{"name":"windows"},"transform":[{"filter":"datum.contrast == 'Difficult'"},{"fold":["start","end"],"as":["edge","tv"]}],
  "mark":{"type":"text","fontSize":20,"color":"#222","align":"center","baseline":"alphabetic"},
  "encoding":{"x":{"aggregate":"mean","field":"tv","type":"quantitative","scale":{"domain":[-2248.9,1021.7],"nice":false,"zero":false},"axis":null},
   "y":{"datum":-11.32,"type":"quantitative","scale":{"domain":[-17.19,59.84],"nice":false,"zero":false,"reverse":true},"axis":null},"text":{"field":"w","type":"nominal"}}},
 {"data":{"values":[{}]},"mark":{"type":"text","fontSize":29,"color":"#222","align":"center","baseline":"alphabetic"},
  "encoding":{"x":{"datum":499.5,"type":"quantitative","scale":{"domain":[-2248.9,1021.7],"nice":false,"zero":false},"axis":null},
   "y":{"datum":-15.14,"type":"quantitative","scale":{"domain":[-17.19,59.84],"nice":false,"zero":false,"reverse":true},"axis":null},"text":{"value":"Difficult contrast"}}},
 {"data":{"values":[{}]},"mark":{"type":"rule","color":"#9a9a9a","strokeWidth":1},
  "encoding":{"x":{"datum":-100,"type":"quantitative","scale":{"domain":[-2248.9,1021.7],"nice":false,"zero":false},"axis":null},"x2":{"datum":800},
   "y":{"datum":0,"type":"quantitative","scale":{"domain":[-17.19,59.84],"nice":false,"zero":false,"reverse":true},"axis":null}}},
 {"data":{"name":"ticks"},"mark":{"type":"rule","color":"#9a9a9a","strokeWidth":1},
  "encoding":{"x":{"field":"t","type":"quantitative","scale":{"domain":[-2248.9,1021.7],"nice":false,"zero":false},"axis":null},
   "y":{"datum":-0.22,"type":"quantitative","scale":{"domain":[-17.19,59.84],"nice":false,"zero":false,"reverse":true},"axis":null},"y2":{"datum":0.22}}},
 {"data":{"values":[{}]},"mark":{"type":"rule","color":"#aaaaaa","strokeWidth":1},
  "encoding":{"x":{"datum":0,"type":"quantitative","scale":{"domain":[-2248.9,1021.7],"nice":false,"zero":false},"axis":null},
   "y":{"datum":-5,"type":"quantitative","scale":{"domain":[-17.19,59.84],"nice":false,"zero":false,"reverse":true},"axis":null},"y2":{"datum":5}}},
 {"data":{"name":"bracket"},"mark":{"type":"rule","color":"#aaaaaa","strokeWidth":1},
  "encoding":{"x":{"datum":-19,"type":"quantitative","scale":{"domain":[-2248.9,1021.7],"nice":false,"zero":false},"axis":null},"x2":{"datum":0},
   "y":{"field":"v","type":"quantitative","scale":{"domain":[-17.19,59.84],"nice":false,"zero":false,"reverse":true},"axis":null}}},
 {"data":{"name":"diff1"},"mark":{"type":"line","interpolate":"monotone","strokeJoin":"round","strokeCap":"butt"},
  "encoding":{"x":{"field":"t","type":"quantitative","scale":{"domain":[-2248.9,1021.7],"nice":false,"zero":false},"axis":null},
   "y":{"field":"v","type":"quantitative","scale":{"domain":[-17.19,59.84],"nice":false,"zero":false,"reverse":true},"axis":null},
   "color":{"field":"s","type":"nominal","scale":{"domain":["frequent","subtracted","deviant"],"range":["#555555","#2b2b2b","#1a1a1a"]},"legend":null},
   "strokeWidth":{"field":"s","type":"nominal","scale":{"type":"ordinal","domain":["frequent","subtracted","deviant"],"range":[1,2.2,2.8]},"legend":null},
   "strokeDash":{"field":"s","type":"nominal","scale":{"domain":["frequent","subtracted","deviant"],"range":[[1,0],[4,3],[1,0]]},"legend":null}}},
 {"data":{"name":"stars"},"transform":[{"filter":"datum.p == 'D1'"}],"mark":{"type":"text","fontSize":24,"color":"#666","align":"center","baseline":"alphabetic"},
  "encoding":{"x":{"field":"t","type":"quantitative","scale":{"domain":[-2248.9,1021.7],"nice":false,"zero":false},"axis":null},
   "y":{"field":"v","type":"quantitative","scale":{"domain":[-17.19,59.84],"nice":false,"zero":false,"reverse":true},"axis":null},"text":{"value":"*"}}},
 {"data":{"values":[{}]},"mark":{"type":"text","fontSize":21,"color":"#222","align":"right","baseline":"alphabetic"},
  "encoding":{"x":{"datum":-611.2,"type":"quantitative","scale":{"domain":[-2248.9,1021.7],"nice":false,"zero":false},"axis":null},
   "y":{"datum":0.26,"type":"quantitative","scale":{"domain":[-17.19,59.84],"nice":false,"zero":false,"reverse":true},"axis":null},"text":{"value":"1"}}},
 {"data":{"values":[{}]},"mark":{"type":"text","fontSize":14,"color":"#222","align":"left","baseline":"alphabetic"},
  "encoding":{"x":{"datum":-608.8,"type":"quantitative","scale":{"domain":[-2248.9,1021.7],"nice":false,"zero":false},"axis":null},
   "y":{"datum":-0.37,"type":"quantitative","scale":{"domain":[-17.19,59.84],"nice":false,"zero":false,"reverse":true},"axis":null},"text":{"value":"st"}}},
 {"data":{"values":[{}]},"mark":{"type":"text","fontSize":21,"color":"#222","align":"left","baseline":"alphabetic"},
  "encoding":{"x":{"datum":-530.5,"type":"quantitative","scale":{"domain":[-2248.9,1021.7],"nice":false,"zero":false},"axis":null},
   "y":{"datum":0.26,"type":"quantitative","scale":{"domain":[-17.19,59.84],"nice":false,"zero":false,"reverse":true},"axis":null},"text":{"value":"block"}}}
]},
{"layer": [
 {"data":{"values":[{}]},"mark":{"type":"rule","color":"#9a9a9a","strokeWidth":1},
  "encoding":{"x":{"datum":-100,"type":"quantitative","scale":{"domain":[-2248.9,1021.7],"nice":false,"zero":false},"axis":null},"x2":{"datum":800},
   "y":{"datum":0,"type":"quantitative","scale":{"domain":[-36.75,40.28],"nice":false,"zero":false,"reverse":true},"axis":null}}},
 {"data":{"name":"ticks"},"mark":{"type":"rule","color":"#9a9a9a","strokeWidth":1},
  "encoding":{"x":{"field":"t","type":"quantitative","scale":{"domain":[-2248.9,1021.7],"nice":false,"zero":false},"axis":null},
   "y":{"datum":-0.22,"type":"quantitative","scale":{"domain":[-36.75,40.28],"nice":false,"zero":false,"reverse":true},"axis":null},"y2":{"datum":0.22}}},
 {"data":{"values":[{}]},"mark":{"type":"rule","color":"#aaaaaa","strokeWidth":1},
  "encoding":{"x":{"datum":0,"type":"quantitative","scale":{"domain":[-2248.9,1021.7],"nice":false,"zero":false},"axis":null},
   "y":{"datum":-5,"type":"quantitative","scale":{"domain":[-36.75,40.28],"nice":false,"zero":false,"reverse":true},"axis":null},"y2":{"datum":5}}},
 {"data":{"name":"bracket"},"mark":{"type":"rule","color":"#aaaaaa","strokeWidth":1},
  "encoding":{"x":{"datum":-19,"type":"quantitative","scale":{"domain":[-2248.9,1021.7],"nice":false,"zero":false},"axis":null},"x2":{"datum":0},
   "y":{"field":"v","type":"quantitative","scale":{"domain":[-36.75,40.28],"nice":false,"zero":false,"reverse":true},"axis":null}}},
 {"data":{"name":"diff2"},"mark":{"type":"line","interpolate":"monotone","strokeJoin":"round","strokeCap":"butt"},
  "encoding":{"x":{"field":"t","type":"quantitative","scale":{"domain":[-2248.9,1021.7],"nice":false,"zero":false},"axis":null},
   "y":{"field":"v","type":"quantitative","scale":{"domain":[-36.75,40.28],"nice":false,"zero":false,"reverse":true},"axis":null},
   "color":{"field":"s","type":"nominal","scale":{"domain":["frequent","subtracted","deviant"],"range":["#555555","#2b2b2b","#1a1a1a"]},"legend":null},
   "strokeWidth":{"field":"s","type":"nominal","scale":{"type":"ordinal","domain":["frequent","subtracted","deviant"],"range":[1,2.2,2.8]},"legend":null},
   "strokeDash":{"field":"s","type":"nominal","scale":{"domain":["frequent","subtracted","deviant"],"range":[[1,0],[4,3],[1,0]]},"legend":null}}},
 {"data":{"name":"stars"},"transform":[{"filter":"datum.p == 'D2'"}],"mark":{"type":"text","fontSize":24,"color":"#666","align":"center","baseline":"alphabetic"},
  "encoding":{"x":{"field":"t","type":"quantitative","scale":{"domain":[-2248.9,1021.7],"nice":false,"zero":false},"axis":null},
   "y":{"field":"v","type":"quantitative","scale":{"domain":[-36.75,40.28],"nice":false,"zero":false,"reverse":true},"axis":null},"text":{"value":"*"}}},
 {"data":{"values":[{}]},"mark":{"type":"text","fontSize":21,"color":"#222","align":"right","baseline":"alphabetic"},
  "encoding":{"x":{"datum":-625.5,"type":"quantitative","scale":{"domain":[-2248.9,1021.7],"nice":false,"zero":false},"axis":null},
   "y":{"datum":0.49,"type":"quantitative","scale":{"domain":[-36.75,40.28],"nice":false,"zero":false,"reverse":true},"axis":null},"text":{"value":"2"}}},
 {"data":{"values":[{}]},"mark":{"type":"text","fontSize":14,"color":"#222","align":"left","baseline":"alphabetic"},
  "encoding":{"x":{"datum":-623,"type":"quantitative","scale":{"domain":[-2248.9,1021.7],"nice":false,"zero":false},"axis":null},
   "y":{"datum":-0.14,"type":"quantitative","scale":{"domain":[-36.75,40.28],"nice":false,"zero":false,"reverse":true},"axis":null},"text":{"value":"nd"}}},
 {"data":{"values":[{}]},"mark":{"type":"text","fontSize":21,"color":"#222","align":"left","baseline":"alphabetic"},
  "encoding":{"x":{"datum":-521,"type":"quantitative","scale":{"domain":[-2248.9,1021.7],"nice":false,"zero":false},"axis":null},
   "y":{"datum":0.49,"type":"quantitative","scale":{"domain":[-36.75,40.28],"nice":false,"zero":false,"reverse":true},"axis":null},"text":{"value":"block"}}}
]},
{"layer": [
 {"data":{"values":[{}]},"mark":{"type":"rule","color":"#9a9a9a","strokeWidth":1},
  "encoding":{"x":{"datum":-100,"type":"quantitative","scale":{"domain":[-2248.9,1021.7],"nice":false,"zero":false},"axis":null},"x2":{"datum":800},
   "y":{"datum":0,"type":"quantitative","scale":{"domain":[-54.84,22.19],"nice":false,"zero":false,"reverse":true},"axis":null}}},
 {"data":{"name":"ticks"},"mark":{"type":"rule","color":"#9a9a9a","strokeWidth":1},
  "encoding":{"x":{"field":"t","type":"quantitative","scale":{"domain":[-2248.9,1021.7],"nice":false,"zero":false},"axis":null},
   "y":{"datum":-0.22,"type":"quantitative","scale":{"domain":[-54.84,22.19],"nice":false,"zero":false,"reverse":true},"axis":null},"y2":{"datum":0.22}}},
 {"data":{"values":[{}]},"mark":{"type":"rule","color":"#aaaaaa","strokeWidth":1},
  "encoding":{"x":{"datum":0,"type":"quantitative","scale":{"domain":[-2248.9,1021.7],"nice":false,"zero":false},"axis":null},
   "y":{"datum":-5,"type":"quantitative","scale":{"domain":[-54.84,22.19],"nice":false,"zero":false,"reverse":true},"axis":null},"y2":{"datum":5}}},
 {"data":{"name":"bracket"},"mark":{"type":"rule","color":"#aaaaaa","strokeWidth":1},
  "encoding":{"x":{"datum":-19,"type":"quantitative","scale":{"domain":[-2248.9,1021.7],"nice":false,"zero":false},"axis":null},"x2":{"datum":0},
   "y":{"field":"v","type":"quantitative","scale":{"domain":[-54.84,22.19],"nice":false,"zero":false,"reverse":true},"axis":null}}},
 {"data":{"name":"diff3"},"mark":{"type":"line","interpolate":"monotone","strokeJoin":"round","strokeCap":"butt"},
  "encoding":{"x":{"field":"t","type":"quantitative","scale":{"domain":[-2248.9,1021.7],"nice":false,"zero":false},"axis":null},
   "y":{"field":"v","type":"quantitative","scale":{"domain":[-54.84,22.19],"nice":false,"zero":false,"reverse":true},"axis":null},
   "color":{"field":"s","type":"nominal","scale":{"domain":["frequent","subtracted","deviant"],"range":["#555555","#2b2b2b","#1a1a1a"]},"legend":null},
   "strokeWidth":{"field":"s","type":"nominal","scale":{"type":"ordinal","domain":["frequent","subtracted","deviant"],"range":[1,2.2,2.8]},"legend":null},
   "strokeDash":{"field":"s","type":"nominal","scale":{"domain":["frequent","subtracted","deviant"],"range":[[1,0],[4,3],[1,0]]},"legend":null}}},
 {"data":{"name":"stars"},"transform":[{"filter":"datum.p == 'D3'"}],"mark":{"type":"text","fontSize":24,"color":"#666","align":"center","baseline":"alphabetic"},
  "encoding":{"x":{"field":"t","type":"quantitative","scale":{"domain":[-2248.9,1021.7],"nice":false,"zero":false},"axis":null},
   "y":{"field":"v","type":"quantitative","scale":{"domain":[-54.84,22.19],"nice":false,"zero":false,"reverse":true},"axis":null},"text":{"value":"*"}}},
 {"data":{"values":[{}]},"mark":{"type":"text","fontSize":21,"color":"#222","align":"right","baseline":"alphabetic"},
  "encoding":{"x":{"datum":-625.5,"type":"quantitative","scale":{"domain":[-2248.9,1021.7],"nice":false,"zero":false},"axis":null},
   "y":{"datum":0.28,"type":"quantitative","scale":{"domain":[-54.84,22.19],"nice":false,"zero":false,"reverse":true},"axis":null},"text":{"value":"3"}}},
 {"data":{"values":[{}]},"mark":{"type":"text","fontSize":14,"color":"#222","align":"left","baseline":"alphabetic"},
  "encoding":{"x":{"datum":-623,"type":"quantitative","scale":{"domain":[-2248.9,1021.7],"nice":false,"zero":false},"axis":null},
   "y":{"datum":-0.35,"type":"quantitative","scale":{"domain":[-54.84,22.19],"nice":false,"zero":false,"reverse":true},"axis":null},"text":{"value":"rd"}}},
 {"data":{"values":[{}]},"mark":{"type":"text","fontSize":21,"color":"#222","align":"left","baseline":"alphabetic"},
  "encoding":{"x":{"datum":-535.3,"type":"quantitative","scale":{"domain":[-2248.9,1021.7],"nice":false,"zero":false},"axis":null},
   "y":{"datum":0.28,"type":"quantitative","scale":{"domain":[-54.84,22.19],"nice":false,"zero":false,"reverse":true},"axis":null},"text":{"value":"block"}}}
]}
],
"resolve": {"scale": {"x": "independent", "y": "independent"}}
}
